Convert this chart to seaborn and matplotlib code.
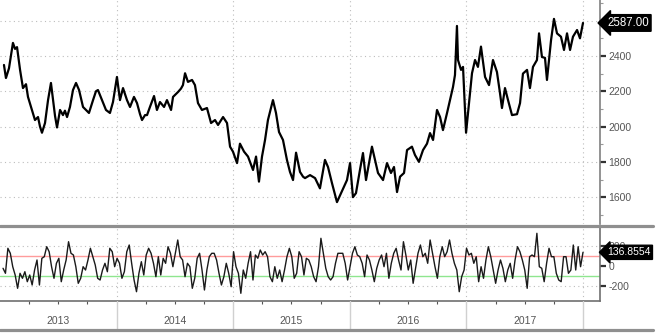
import numpy as np
import pandas as pd
import matplotlib
matplotlib.use("Agg")
import matplotlib.pyplot as plt
import seaborn as sns
from matplotlib.lines import Line2D
from matplotlib.ticker import FixedLocator, NullFormatter

# ---------------- data ----------------
START_YEAR = 2013
years = [2013, 2014, 2015, 2016, 2017]

# time in years since 2013-01-01, price values
price_t = [0.034, 0.051, 0.077, 0.111, 0.129, 0.146, 0.172, 0.197, 0.223, 0.240,
           0.274, 0.300, 0.326, 0.343, 0.360, 0.386, 0.412, 0.437, 0.455, 0.472,
           0.489, 0.515, 0.540, 0.557, 0.575, 0.600, 0.626, 0.652, 0.678, 0.712,
           0.738, 0.763, 0.798, 0.823, 0.840, 0.875, 0.909, 0.943, 0.969, 1.003,
           1.029, 1.055, 1.089, 1.115, 1.149, 1.175, 1.201, 1.218, 1.244, 1.261,
           1.286, 1.321, 1.346, 1.372, 1.407, 1.432, 1.467, 1.484, 1.527, 1.552,
           1.569, 1.587, 1.612, 1.647, 1.672, 1.698, 1.732, 1.775, 1.810, 1.844,
           1.870, 1.913, 1.947, 1.973, 1.998, 2.033, 2.058, 2.093, 2.127, 2.170,
           2.196, 2.221, 2.247, 2.273, 2.298, 2.341, 2.367, 2.393, 2.427, 2.461,
           2.487, 2.513, 2.539, 2.573, 2.599, 2.616, 2.659, 2.702, 2.744, 2.787,
           2.813, 2.847, 2.890, 2.933, 2.976, 3.002, 3.027, 3.053, 3.087, 3.113,
           3.139, 3.190, 3.216, 3.242, 3.285, 3.319, 3.353, 3.379, 3.405, 3.431,
           3.465, 3.491, 3.533, 3.559, 3.593, 3.628, 3.662, 3.688, 3.714, 3.748,
           3.774, 3.799, 3.834, 3.859, 3.885, 3.902, 3.919, 3.928, 3.954, 3.971,
           3.997, 4.014, 4.048, 4.074, 4.099, 4.125, 4.160, 4.194, 4.228, 4.262,
           4.288, 4.305, 4.331, 4.357, 4.391, 4.434, 4.460, 4.485, 4.520, 4.545,
           4.571, 4.605, 4.623, 4.648, 4.674, 4.691, 4.726, 4.751, 4.777, 4.811,
           4.837, 4.863, 4.889, 4.914, 4.949, 4.974, 5.000]
price_v = [2349, 2275, 2330, 2474, 2440, 2450, 2321, 2218, 2240, 2168,
           2094, 2037, 2054, 2000, 1965, 2020, 2150, 2247, 2150, 2060,
           1995, 2094, 2065, 2090, 2054, 2111, 2207, 2247, 2207, 2111,
           2094, 2077, 2150, 2200, 2207, 2150, 2094, 2077, 2139, 2281,
           2150, 2218, 2150, 2111, 2168, 2133, 2070, 2037, 2065, 2065,
           2111, 2173, 2094, 2139, 2111, 2150, 2094, 2168, 2196, 2215,
           2235, 2302, 2253, 2264, 2235, 2133, 2094, 2105, 2020, 2037,
           2009, 2054, 2020, 1886, 1858, 1793, 1903, 1858, 1830, 1754,
           1830, 1688, 1830, 1924, 2037, 2150, 2077, 1969, 1924, 1811,
           1743, 1697, 1852, 1743, 1716, 1708, 1725, 1708, 1650, 1811,
           1771, 1680, 1572, 1635, 1697, 1793, 1600, 1623, 1754, 1850,
           1697, 1886, 1811, 1737, 1697, 1793, 1737, 1771, 1629, 1716,
           1737, 1867, 1886, 1839, 1800, 1867, 1903, 1963, 1924, 2094,
           2054, 1980, 2077, 2150, 2224, 2292, 2570, 2377, 2321, 2338,
           1965, 2077, 2302, 2377, 2338, 2453, 2281, 2235, 2377, 2309,
           2190, 2105, 2218, 2150, 2065, 2070, 2133, 2300, 2321, 2218,
           2338, 2377, 2528, 2394, 2389, 2264, 2490, 2610, 2528, 2509,
           2434, 2528, 2434, 2509, 2547, 2500, 2587]

# oscillator values, evenly spaced from osc_t_start to osc_t_end
osc_t_start, osc_t_end = 0.026, 5.0
osc_v = [-23, -73, 177, 127, -7, -90, -223, -73, -123, -57,
         -157, -90, -190, -40, 60, -190, 77, 93, 193, 143,
         -7, -123, 27, 77, -157, -40, 60, 243, 127, 110,
         -7, -173, -123, -7, -40, 60, 177, 93, 10, -123,
         -140, -40, 27, -57, 177, 143, -7, 77, 27, -123,
         -57, 143, 210, 27, -140, -257, -73, 43, -90, 110,
         177, 127, 27, -107, 93, -90, 77, 27, 193, 127,
         -7, 127, 260, 93, 60, -107, 27, -7, -223, -123,
         77, 127, -40, -240, -40, 93, 127,
         127, 60, -73, -190, -107, 27, -73, -207, 143, -7,
         -73, -273, -40, -123, 27, 143, -140, 110, 77, 160,
         110, 143, 93, -107, -157, -7, -123, -40, -157, -40,
         93, 177, 93, -123, -73, 143, 93, -90, 77, 60,
         -7, -107, -157, -7, 277, 127, -23, -107, -140, -107,
         27, 127, 127, 127, 27, -140, -7, 127, 193, 110,
         93, 27, -107, 110, 60, -40, -157, -23, 60, 110,
         -7, 127, -123, 27, 127, 177, 60, -40, 243, 110,
         -40, 60, -173, -23, 127, 210, 93, 127, 27, 260,
         127,
         -7, -123, 93, 193, 93, 143, 260, 127, 27, -40,
         -257, -107, -40, 177, 110, 127, 27, 93, -157, -7,
         -123, 60, 193, 93, -40, -173, -40, 60, -23, -157,
         -40, 27, -123, 60, 193, 143, 60, -40, -223, 93,
         110, 93, 327, -7, -23, -157, 27, 177, 93, 93,
         -73, -140, -157, 93, 93, -73, -40, 210, -40, 193,
         -7, 137]

last_price = 2587.00
last_price_label = "2587.00"
last_osc = 136.8554
last_osc_label = "136.8554"
upper_band, lower_band = 100, -100
price_ticks = [1600, 1800, 2000, 2200, 2400, 2600]
price_tick_labels = ["1600", "1800", "2000", "2200", "2400", ""]
price_minor = [1500, 1700, 1900, 2100, 2300, 2500, 2700]
osc_ticks = [-200, 0, 200]
osc_tick_labels = ["-200", "0", "200"]

# ---------------- style ----------------
sns.set_theme(style="white")
plt.rcParams["font.family"] = ["Liberation Sans", "DejaVu Sans"]
plt.rcParams["axes.unicode_minus"] = False

W, H = 665, 336
fig = plt.figure(figsize=(W / 100, H / 100), dpi=100)
fig.patch.set_facecolor("white")


def rect(x0, y0, x1, y1):
    return [x0 / W, 1 - y1 / H, (x1 - x0) / W, (y1 - y0) / H]


ax1 = fig.add_axes(rect(0, 0, 600, 224))
ax2 = fig.add_axes(rect(0, 228, 600, 301))
ax3 = fig.add_axes(rect(0, 301, 600, 329))

XMAX = START_YEAR + 600 / 116.6
boundaries = [y + 1 for y in years]
quarters = [y + q for y in years + [2018] for q in (0.25, 0.5, 0.75)]

grid_kw = dict(color="#bdbdbd", lw=0.8, ls=(0, (1, 3)))
tick_lab = "#555555"

# ---- price panel ----
df_p = pd.DataFrame({"t": START_YEAR + np.array(price_t), "v": price_v})
sns.lineplot(data=df_p, x="t", y="v", ax=ax1, color="black", lw=1.6, zorder=3)
ax1.set_xlim(START_YEAR, XMAX)
ax1.set_ylim(1448, 2717)
ax1.set_xlabel("")
ax1.set_ylabel("")
for s in ("left", "top", "bottom"):
    ax1.spines[s].set_visible(False)
ax1.spines["right"].set_color("#808080")
ax1.spines["right"].set_linewidth(1.2)
ax1.set_xticks(boundaries)
ax1.xaxis.set_major_formatter(NullFormatter())
ax1.tick_params(axis="x", length=0, bottom=False)
ax1.set_yticks(price_ticks)
ax1.set_yticklabels(price_tick_labels)
ax1.yaxis.set_minor_locator(FixedLocator(price_minor))
ax1.tick_params(axis="y", which="major", left=False, right=True, labelleft=False,
                labelright=True, length=4, width=1.6, color="#333333",
                labelsize=7.5, labelcolor=tick_lab, pad=2, direction="out")
ax1.tick_params(axis="y", which="minor", left=False, right=True, length=2.5,
                width=0.8, color="#999999", direction="out")
ax1.grid(True, which="major", **grid_kw)
ax1.set_axisbelow(True)
ax1.text(1 + 7 / 600, last_price, last_price_label, transform=ax1.get_yaxis_transform(),
         ha="left", va="center", color="white", fontsize=8.3, clip_on=False, zorder=10,
         bbox=dict(boxstyle="larrow,pad=0.2", fc="black", ec="black"))

# ---- oscillator panel ----
df_o = pd.DataFrame({"t": START_YEAR + np.linspace(osc_t_start, osc_t_end, len(osc_v)),
                     "v": osc_v})
ax2.axhline(upper_band, color="#ff9c9c", lw=1.0, zorder=1)
ax2.axhline(lower_band, color="#8fe68f", lw=1.0, zorder=1)
for v in (200, -200):
    ax2.axhline(v, zorder=0, **grid_kw)
sns.lineplot(data=df_o, x="t", y="v", ax=ax2, color="#1a1a1a", lw=1.0, zorder=3)
ax2.set_xlim(START_YEAR, XMAX)
ax2.set_ylim(-350, 380)
ax2.set_xlabel("")
ax2.set_ylabel("")
for s in ("left", "top"):
    ax2.spines[s].set_visible(False)
for s in ("right", "bottom"):
    ax2.spines[s].set_color("#707070")
    ax2.spines[s].set_linewidth(1.2)
ax2.set_xticks(boundaries)
ax2.xaxis.set_major_formatter(NullFormatter())
ax2.xaxis.set_minor_locator(FixedLocator([q for q in quarters if q < XMAX]))
ax2.tick_params(axis="x", which="major", length=0, bottom=False)
ax2.tick_params(axis="x", which="minor", bottom=True, length=2.5, width=0.8,
                color="#555555", direction="out")
ax2.set_yticks(osc_ticks)
ax2.set_yticklabels(osc_tick_labels)
ax2.tick_params(axis="y", which="major", left=False, right=True, labelleft=False,
                labelright=True, length=4, width=1.6, color="#333333",
                labelsize=7.5, labelcolor=tick_lab, pad=2, direction="out")
ax2.grid(True, which="major", axis="x", **grid_kw)
ax2.set_axisbelow(True)
ax2.text(1 + 7 / 600, last_osc, last_osc_label, transform=ax2.get_yaxis_transform(),
         ha="left", va="center", color="white", fontsize=7.5, clip_on=False, zorder=10,
         bbox=dict(boxstyle="larrow,pad=0.2", fc="black", ec="black"))

# ---- year label band ----
ax3.set_xlim(START_YEAR, XMAX)
ax3.set_ylim(0, 1)
ax3.axis("off")
for b in boundaries:
    ax3.axvline(b, color="#d0d0d0", lw=1.0)
for y in years:
    ax3.text(y + 0.5, 0.27, str(y), ha="center", va="center", fontsize=7.5,
             color=tick_lab)

# ---- thick separator lines ----
for ypx in (225.5, 329.5):
    fig.add_artist(Line2D([0, 653 / W], [1 - ypx / H] * 2, color="#8f8f8f", lw=2.3))

fig.savefig("out.png", dpi=100)
